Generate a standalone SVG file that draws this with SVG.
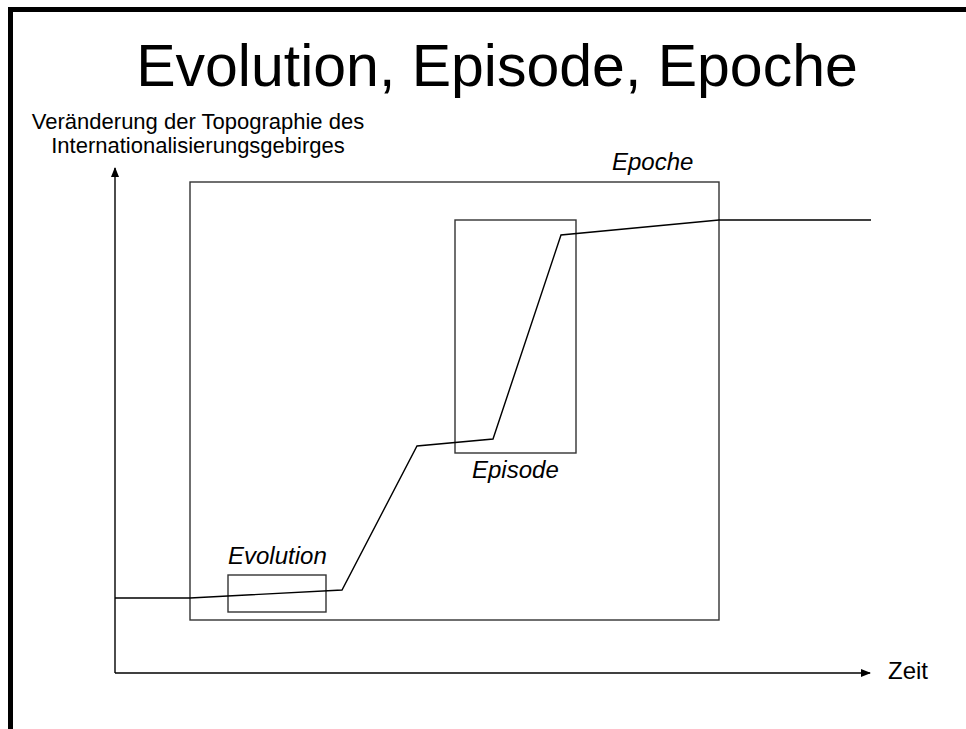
<svg xmlns="http://www.w3.org/2000/svg" width="966" height="729" viewBox="0 0 966 729">
<style>
.ln{fill:none;stroke:#000;stroke-width:1.4}
.box{fill:none;stroke:#333;stroke-width:1.4}
text{font-family:"Liberation Sans",Arial,sans-serif;fill:#000}
.lab{font-size:24px;font-style:italic}
</style>
<defs>
<marker id="ah" markerWidth="10" markerHeight="8" refX="9" refY="4" orient="auto" markerUnits="userSpaceOnUse">
<path d="M0,0 L10,4 L0,8 Z" fill="#000"/>
</marker>
</defs>
<rect x="0" y="0" width="966" height="729" fill="#fff"/>
<g id="frame">
<rect x="8" y="7" width="5" height="722" fill="#000"/>
<rect x="8" y="7" width="958" height="5" fill="#000"/>
</g>
<g id="title"><text x="497" y="86" font-size="59" text-anchor="middle">Evolution, Episode, Epoche</text></g>
<g id="ylabel"><text x="198" y="129" font-size="22" text-anchor="middle">Veränderung der Topographie des</text>
<text x="198" y="153" font-size="22" text-anchor="middle">Internationalisierungsgebirges</text></g>
<g id="epoche"><rect class="box" x="190" y="182" width="529" height="438"/><text class="lab" x="612" y="170">Epoche</text></g>
<g id="episode"><rect class="box" x="455" y="220" width="121" height="233"/><text class="lab" x="472" y="478">Episode</text></g>
<g id="evolution"><rect class="box" x="228" y="575" width="98" height="37"/><text class="lab" x="228" y="564">Evolution</text></g>
<g id="xlabel"><text x="888" y="679" font-size="24">Zeit</text></g>
<g id="connectors">
<line class="ln" x1="115" y1="673" x2="115" y2="168" marker-end="url(#ah)"/>
<line class="ln" x1="115" y1="673" x2="870" y2="673" marker-end="url(#ah)"/>
<polyline class="ln" points="115,598 190,598 342,590 417,446 493,439 561,235 719,220 871,220"/>
</g>
</svg>
